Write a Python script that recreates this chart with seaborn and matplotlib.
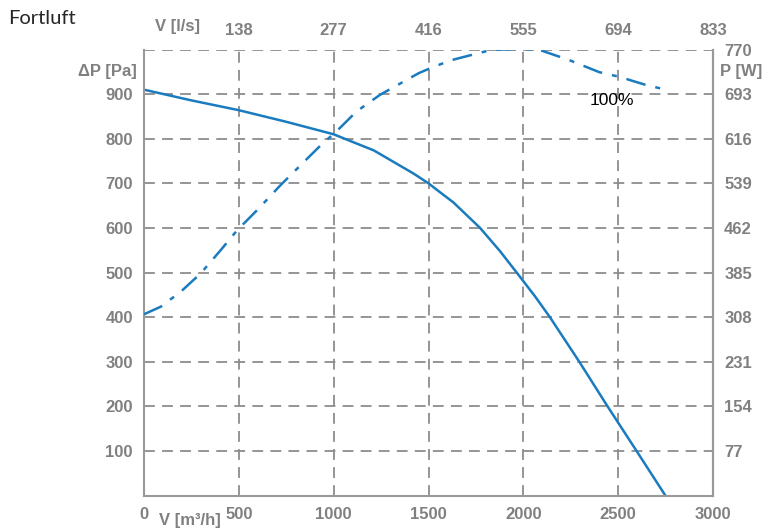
import seaborn as sns
import matplotlib.pyplot as plt

# Kennlinie Fortluft
flow_p = [0, 250, 500, 750, 1000, 1105, 1211, 1316, 1421, 1500, 1561,
          1632, 1772, 1877, 1965, 2061, 2140, 2295, 2444, 2597, 2749]
pressure = [910, 886, 864, 838, 810, 792, 774, 748, 722, 700, 680,
            657, 600, 548, 500, 447, 400, 300, 200, 100, 0]

flow_w = [0, 88, 194, 300, 405, 491, 597, 720, 843, 948, 1000, 1120, 1245,
          1447, 1525, 1624, 1826, 1950, 2080, 2240, 2400, 2505, 2645, 2747]
power = [313, 326, 352, 384, 424, 458, 493, 536, 576, 610, 624, 663, 692,
         729, 740, 752, 769, 771, 770, 752, 731, 723, 709, 701]

x_ticks = [0, 500, 1000, 1500, 2000, 2500, 3000]
top_ticks = [500, 1000, 1500, 2000, 2500, 3000]
top_labels = ['138', '277', '416', '555', '694', '833']
left_ticks = [100, 200, 300, 400, 500, 600, 700, 800, 900]
right_ticks = [77, 154, 231, 308, 385, 462, 539, 616, 693, 770]

sns.set_style('white')
plt.rcParams['font.family'] = ['Liberation Sans', 'DejaVu Sans']

grey = '#808080'
blue = '#1a7bbf'

fig = plt.figure(figsize=(7.73, 5.31), dpi=100)
ax = fig.add_axes([0.1863, 0.0667, 0.7361, 0.84])

sns.lineplot(x=flow_p, y=pressure, ax=ax, color=blue, linewidth=1.8)
ax.set_xlim(0, 3000)
ax.set_ylim(0, 1000)
ax.set_xticks(x_ticks)
ax.set_xticklabels([str(t) for t in x_ticks])
ax.set_yticks(left_ticks)
ax.set_yticklabels([str(t) for t in left_ticks])
ax.tick_params(length=0, labelsize=12, labelcolor=grey, pad=8)
for lab in ax.get_xticklabels() + ax.get_yticklabels():
    lab.set_fontweight('bold')
ax.set_xlabel('')
ax.set_ylabel('')

# dashed grid
for t in [500, 1000, 1500, 2000, 2500]:
    ax.axvline(t, color='#8c8c8c', lw=1.3, ls=(0, (6, 4)), zorder=0)
for t in left_ticks + [1000]:
    ax.axhline(t, color='#8c8c8c', lw=1.3, ls=(0, (6, 4)), zorder=0)

for side in ['left', 'bottom', 'right']:
    ax.spines[side].set_color('#999999')
    ax.spines[side].set_linewidth(1.5)
ax.spines['top'].set_visible(False)

ax2 = ax.twinx()
sns.lineplot(x=flow_w, y=power, ax=ax2, color=blue, linewidth=1.8,
             linestyle=(0, (8, 4, 2, 4)))
ax2.set_ylim(0, 770)
ax2.set_yticks(right_ticks)
ax2.set_yticklabels([str(t) for t in right_ticks])
ax2.tick_params(length=0, labelsize=12, labelcolor=grey, pad=8)
for lab in ax2.get_yticklabels():
    lab.set_fontweight('bold')
ax2.set_ylabel('')
for side in ['left', 'top', 'bottom']:
    ax2.spines[side].set_visible(False)
ax2.spines['right'].set_color('#999999')
ax2.spines['right'].set_linewidth(1.5)

top = ax.secondary_xaxis('top')
top.set_xticks(top_ticks)
top.set_xticklabels(top_labels)
top.tick_params(length=0, labelsize=12, labelcolor=grey, pad=8)
for lab in top.get_xticklabels():
    lab.set_fontweight('bold')
top.spines['top'].set_visible(False)

# axis captions
ax.text(175, 1035, 'V [l/s]', color=grey, fontsize=12, fontweight='bold',
        ha='center', va='bottom')
ax.text(-0.012, 0.95, 'ΔP [Pa]', transform=ax.transAxes, color=grey,
        fontsize=12, fontweight='bold', ha='right', va='center')
ax.text(1.012, 0.95, 'P [W]', transform=ax.transAxes, color=grey,
        fontsize=12, fontweight='bold', ha='left', va='center')
ax.text(240, -0.055, 'V [m³/h]', transform=ax.get_xaxis_transform(), color=grey,
        fontsize=12, fontweight='bold', ha='center', va='center')
ax.text(2465, 885, '100%', color='black', fontsize=12.5, ha='center', va='center')

fig.text(0.01, 0.965, 'Fortluft', fontsize=14.5, family=['Lato', 'DejaVu Sans'],
         ha='left', va='center')

fig.savefig('out.png', dpi=100)
